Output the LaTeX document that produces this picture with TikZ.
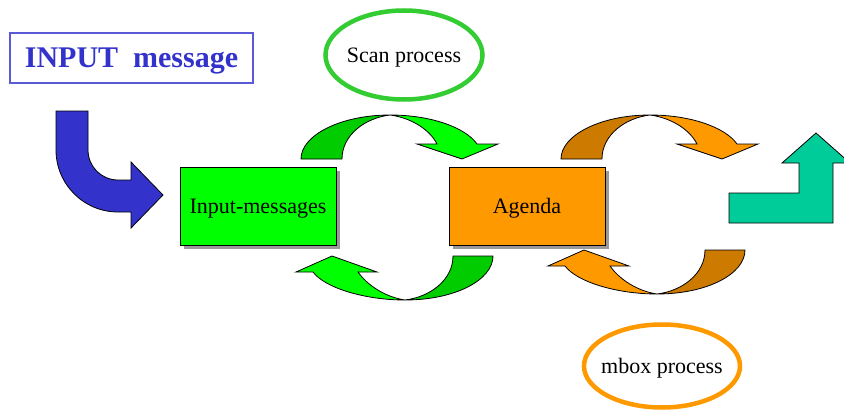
\documentclass[tikz,border=0pt]{standalone}
\usepackage{fontspec}
\setmainfont{Liberation Serif}
\usepackage{tikz}
\usetikzlibrary{shapes,shadows}

\definecolor{inblue}{HTML}{3333CC}
\definecolor{inframe}{HTML}{5A5AD6}
\definecolor{darkgreen}{HTML}{00CC00}
\definecolor{litegreen}{HTML}{00FF00}
\definecolor{ringgreen}{HTML}{33CC33}
\definecolor{darkorange}{HTML}{CC7A00}
\definecolor{liteorange}{HTML}{FF9900}
\definecolor{outteal}{HTML}{00CC99}

\tikzset{
  queue/.style={
    rectangle,
    draw=black, line width=0.8pt,
    minimum width=156pt, minimum height=78pt,
    inner sep=0pt,
    text centered,
    drop shadow={shadow xshift=4pt, shadow yshift=-4pt, fill=gray!80, opacity=1}
  },
  process/.style={
    ellipse,
    line width=4.5pt,
    fill=white,
    inner xsep=-8pt, inner ysep=-4pt
  },
  blockarrow/.style={draw=black, line width=0.8pt},
}

% curved loop arrows, #1 back side, #2 front side
\newcommand{\loopover}[2]{%
  \filldraw[blockarrow, fill=#1] (301,159) .. controls (301,135) and (341,115) .. (390,115)
    .. controls (365,118) and (342,135) .. (342,159) -- cycle;
  \filldraw[blockarrow, fill=#2] (390,115) .. controls (430,115) and (465,127) .. (477,144)
    -- (498,144) -- (462,159) -- (417,144) -- (437,144)
    .. controls (430,130) and (412,118) .. (390,115) -- cycle;
}
\newcommand{\loopunder}[2]{%
  \filldraw[blockarrow, fill=#1] (493,256) .. controls (493,280) and (455,300) .. (405,300)
    .. controls (430,297) and (453,280) .. (453,256) -- cycle;
  \filldraw[blockarrow, fill=#2] (405,300) .. controls (365,300) and (325,288) .. (313,272)
    -- (296,272) -- (332,256) -- (377,272) -- (358,272)
    .. controls (367,285) and (385,297) .. (405,300) -- cycle;
}

\begin{document}
\begin{tikzpicture}[x=1pt,y=-1pt,font=\fontsize{22}{26}\selectfont,
    every node/.append style={text depth=0pt}]
  \clip (0,0) rectangle (844,415);
  \fill[white] (0,0) rectangle (844,415);

  \node[draw=inframe, line width=1.2pt, minimum width=243pt, minimum height=50pt,
        text=inblue, font=\fontsize{30}{34}\selectfont\bfseries]
    (in) at (131.5,58) {INPUT\ \ message};

  % incoming arrow
  \filldraw[blockarrow, fill=inblue] (56,111) -- (88,111) -- (88,150)
    .. controls (88,166.6) and (101.4,180) .. (118,180)
    -- (131,180) -- (131,162) -- (163,195) -- (131,228) -- (131,212) -- (118,212)
    .. controls (83.8,212) and (56,184.2) .. (56,150) -- cycle;

  \node[queue, fill=litegreen] (a) at (258,206) {Input-messages};
  \node[queue, fill=liteorange] (b) at (527,206) {Agenda};

  \loopover{darkgreen}{litegreen}
  \loopunder{darkgreen}{litegreen}
  \begin{scope}[shift={(260,0)}]
    \loopover{darkorange}{liteorange}
  \end{scope}
  \begin{scope}[shift={(252,-6)}]
    \loopunder{darkorange}{liteorange}
  \end{scope}

  % outgoing arrow
  \filldraw[blockarrow, fill=outteal] (729,193) -- (799,193) -- (799,163) -- (782,163)
    -- (816,133) -- (850,163) -- (833,163) -- (833,223) -- (729,223) -- cycle;

  \node[process, draw=ringgreen, minimum width=157pt, minimum height=89pt]
    (s) at (404,55) {Scan process};
  \node[process, draw=liteorange, minimum width=156pt, minimum height=83pt]
    (m) at (662,366) {mbox process};
\end{tikzpicture}
\end{document}
